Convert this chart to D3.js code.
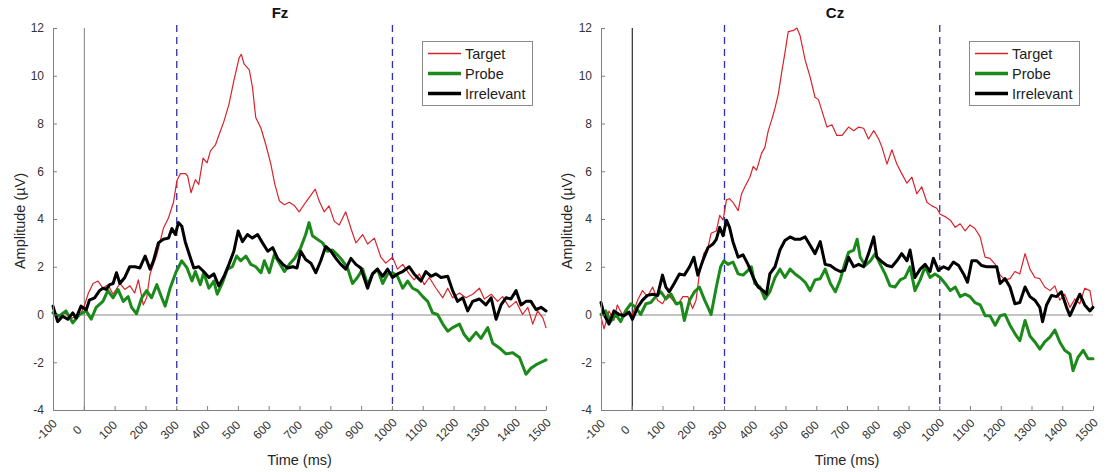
<!DOCTYPE html>
<html>
<head>
<meta charset="utf-8">
<script src="https://cdn.jsdelivr.net/npm/d3@7"></script>
<style>
  body { margin: 0; background: #fff; }
  svg { display: block; font-family: "Liberation Sans", Arial, Helvetica, sans-serif; }
</style>
</head>
<body>
<svg id="chart" width="1106" height="472"></svg>
<script>
// Grand-average ERP waveforms, [time (ms), amplitude (µV)]
const seriesNames = ["Target", "Probe", "Irrelevant"];
const xTicks = d3.range(-100, 1501, 100);
const yTicks = d3.range(-4, 13, 2);
const windowMarks = [300, 1000];

const fzTarget = [[-100,0.1],[-80,-0.05],[-60,0.05],[-40,-0.15],[-25,-0.1],[-10,0.05],[0,0.3],[15,0.9],[30,1.3],[46,1.4],[62,1.1],[78,1.25],[95,0.85],[117,1.3],[133,1.05],[150,1.2],[165,0.9],[177,1.45],[193,0.4],[204,0.7],[215,1.7],[237,2.5],[258,3.6],[275,4.05],[291,4.7],[302,5.6],[313,5.9],[330,5.9],[337,5.8],[348,5.1],[362,5.65],[373,5.45],[387,6.55],[400,6.35],[411,6.85],[427,7.1],[438,7.5],[455,8.1],[471,8.8],[487,9.8],[504,10.75],[511,10.9],[520,10.5],[537,10.25],[547,9.55],[558,8.25],[575,7.8],[591,7.1],[607,6.3],[620,5.45],[635,4.75],[651,4.6],[667,4.7],[684,4.55],[699,4.3],[720,4.7],[737,5.0],[751,5.25],[764,4.75],[780,4.3],[796,4.55],[813,3.9],[829,3.75],[850,4.3],[867,3.6],[883,3.0],[905,3.35],[921,2.95],[943,3.2],[964,2.4],[980,2.15],[1002,2.4],[1018,1.9],[1035,2.1],[1056,1.7],[1072,1.45],[1089,1.7],[1105,1.25],[1121,1.55],[1143,1.1],[1165,0.7],[1181,1.1],[1197,0.7],[1219,0.9],[1240,0.7],[1262,0.85],[1284,1.1],[1300,0.65],[1322,0.85],[1343,0.55],[1359,0.75],[1381,0.3],[1403,0.55],[1424,0],[1441,0.3],[1457,-0.4],[1473,0.15],[1490,-0.15],[1500,-0.55]];

const fzProbe = [[-100,0.07],[-80,-0.07],[-58,0.15],[-36,-0.35],[-14,0],[8,0.15],[24,-0.2],[40,0.3],[62,0.55],[78,1.0],[95,0.7],[111,1.05],[128,0.55],[144,0.75],[155,0.3],[171,0.03],[188,0.7],[204,1.0],[220,0.7],[237,1.25],[253,0.7],[264,0.35],[280,1.1],[300,1.8],[318,2.25],[335,1.95],[351,1.4],[362,1.8],[378,1.25],[389,1.75],[406,1.1],[422,1.4],[433,0.85],[449,1.3],[466,1.9],[482,2.0],[496,2.45],[509,2.25],[526,2.45],[542,2.1],[558,2.0],[575,1.75],[586,2.25],[602,1.75],[618,2.5],[635,2.15],[651,1.8],[667,2.1],[684,2.35],[704,2.8],[720,3.35],[731,3.85],[742,3.3],[758,3.15],[775,3.0],[791,2.65],[807,2.7],[823,2.5],[840,2.25],[856,1.95],[872,1.3],[888,1.55],[905,1.9],[921,1.25],[937,1.7],[953,1.9],[970,1.3],[986,1.7],[1002,1.75],[1018,1.6],[1035,1.1],[1051,1.4],[1067,1.1],[1083,1.0],[1100,0.75],[1116,0.55],[1132,0.07],[1148,0],[1165,-0.4],[1181,-0.7],[1197,-0.55],[1219,-0.4],[1235,-0.85],[1251,-1.1],[1273,-0.75],[1289,-1.0],[1311,-0.55],[1327,-1.2],[1349,-1.4],[1370,-1.65],[1392,-1.6],[1414,-1.8],[1435,-2.5],[1451,-2.25],[1468,-2.1],[1484,-2.0],[1500,-1.9]];

const fzIrrelevant = [[-100,0.35],[-85,-0.3],[-69,-0.07],[-52,-0.2],[-36,0.07],[-25,-0.15],[-9,0.35],[8,0.2],[18,0.6],[35,0.7],[51,1.0],[62,1.1],[73,1.05],[84,1.25],[95,1.3],[106,1.75],[117,1.3],[133,1.55],[149,2.0],[166,2.0],[182,1.95],[199,2.45],[215,1.9],[226,2.25],[242,3.0],[258,3.15],[275,3.2],[286,3.6],[297,3.35],[307,3.85],[318,3.7],[329,3.05],[344,2.45],[357,1.95],[373,2.0],[389,1.8],[406,1.55],[422,1.7],[438,1.2],[455,1.6],[471,2.1],[487,2.65],[501,3.5],[515,3.05],[531,3.35],[547,3.2],[564,3.35],[580,3.0],[597,2.65],[613,2.8],[629,2.35],[646,2.1],[662,1.95],[678,2.0],[692,1.95],[704,2.65],[720,2.3],[737,2.15],[753,1.75],[769,2.25],[785,2.85],[802,2.65],[818,2.35],[834,2.1],[850,1.9],[867,2.35],[883,2.1],[899,1.95],[921,1.1],[937,1.7],[953,1.9],[970,1.6],[986,1.9],[1002,1.55],[1018,1.7],[1035,1.8],[1056,2.0],[1072,1.7],[1094,1.4],[1110,1.8],[1127,1.6],[1143,1.7],[1159,1.55],[1181,1.6],[1197,1.0],[1213,0.55],[1230,0.7],[1246,0.15],[1262,0.55],[1284,0.65],[1305,0.4],[1322,0.7],[1338,-0.2],[1354,0.4],[1370,0.7],[1386,0.65],[1403,1.0],[1419,0.4],[1435,0.55],[1451,0.55],[1468,0.2],[1484,0.3],[1500,0.15]];

const czTarget = [[-100,-0.1],[-90,-0.6],[-74,0.15],[-58,-0.25],[-47,0.4],[-31,0],[-14,0.15],[2,0],[19,0.6],[35,1.0],[51,0.75],[68,1.15],[84,0.6],[100,0.45],[117,0.85],[133,0.6],[149,0.4],[166,0.75],[182,0.75],[198,0.25],[209,0.6],[220,1.7],[234,2.55],[248,2.8],[258,3.4],[275,3.5],[286,4.15],[297,3.95],[308,4.8],[318,4.85],[329,4.7],[346,4.35],[357,5.05],[368,5.35],[384,5.75],[395,6.2],[406,6.05],[422,6.75],[433,7.0],[444,7.7],[455,8.15],[466,8.65],[477,9.25],[487,10.1],[498,10.95],[509,11.85],[526,11.9],[537,12.0],[547,11.7],[564,10.65],[580,9.95],[596,9.1],[607,9.0],[618,8.55],[635,7.85],[651,7.95],[667,7.5],[684,7.5],[705,7.85],[722,7.7],[738,7.85],[754,7.8],[770,7.35],[787,7.7],[803,7.35],[814,7.0],[830,6.3],[846,6.9],[862,6.3],[878,5.9],[895,5.5],[911,5.75],[927,5.05],[943,5.35],[960,4.7],[976,4.55],[992,4.45],[1003,4.2],[1019,4.1],[1036,3.95],[1052,3.65],[1068,3.8],[1084,3.5],[1100,3.75],[1116,3.6],[1133,3.25],[1149,2.4],[1165,2.35],[1182,2.1],[1198,1.65],[1214,1.45],[1230,1.5],[1246,1.8],[1262,1.7],[1279,2.55],[1295,1.9],[1311,1.55],[1327,1.5],[1343,1.15],[1360,1.0],[1376,1.2],[1392,0.6],[1408,0.85],[1425,0.3],[1441,0.65],[1457,0.45],[1473,1.1],[1490,1.0],[1500,0.25]];

const czProbe = [[-100,0],[-85,0.15],[-69,-0.3],[-52,0],[-36,-0.3],[-20,0.15],[-3,0.45],[13,0.3],[29,0],[46,0.45],[62,0.5],[78,0.75],[95,0.95],[111,0.65],[128,0.85],[144,0.45],[160,0.5],[171,-0.25],[188,0.6],[204,0.95],[220,1.15],[237,0.6],[248,0.3],[258,0],[275,1.15],[289,2.0],[300,2.25],[313,2.1],[329,2.2],[346,1.7],[362,1.65],[378,1.85],[389,2.0],[400,1.3],[417,1.15],[433,0.65],[449,0.95],[466,1.55],[482,1.9],[498,1.55],[515,1.9],[531,1.7],[547,1.55],[564,1.35],[580,1.0],[596,1.45],[613,1.5],[629,1.9],[646,1.3],[662,0.95],[678,1.45],[692,2.1],[705,2.6],[722,2.7],[733,3.15],[743,2.4],[759,2.05],[776,2.25],[792,2.55],[808,2.1],[824,1.7],[840,1.2],[856,1.15],[873,1.45],[889,1.55],[905,2.0],[921,1.0],[938,1.45],[954,2.0],[970,1.55],[986,1.7],[1003,1.55],[1019,1.3],[1036,1.0],[1052,1.15],[1068,0.75],[1084,0.85],[1100,0.75],[1116,0.5],[1133,0.4],[1149,-0.05],[1165,-0.05],[1182,-0.45],[1198,-0.05],[1214,0],[1230,-0.45],[1246,-0.8],[1262,-1.1],[1279,-0.25],[1295,-0.9],[1311,-1.15],[1327,-1.45],[1343,-1.15],[1360,-0.95],[1376,-0.65],[1392,-1.15],[1408,-1.5],[1425,-1.65],[1435,-2.35],[1451,-1.8],[1468,-1.5],[1484,-1.85],[1500,-1.85]];

const czIrrelevant = [[-100,0.5],[-90,0],[-74,-0.4],[-58,0.15],[-41,0],[-25,-0.05],[-9,0.1],[2,-0.2],[19,0.3],[35,0.6],[51,0.8],[68,0.85],[84,0.8],[100,1.65],[111,1.15],[122,0.95],[138,1.3],[155,1.7],[171,1.65],[188,2.0],[202,2.4],[215,1.65],[231,2.25],[248,2.8],[264,2.95],[275,3.15],[286,3.65],[297,3.3],[308,3.95],[318,3.65],[329,3.05],[346,2.4],[362,2.5],[378,2.1],[395,1.55],[411,1.15],[427,1.0],[438,0.85],[449,1.7],[466,2.0],[482,2.7],[498,3.1],[515,3.25],[531,3.15],[547,3.15],[564,3.25],[580,2.9],[596,2.55],[613,3.05],[629,2.1],[646,2.05],[662,1.9],[678,1.8],[692,1.85],[705,2.4],[722,2.0],[738,2.1],[754,2.0],[770,2.55],[787,3.25],[797,2.4],[814,2.2],[830,2.05],[846,2.0],[862,2.25],[878,2.55],[895,2.25],[905,2.7],[921,1.55],[938,1.9],[954,2.1],[970,1.8],[981,2.35],[997,1.85],[1014,2.0],[1030,1.9],[1046,2.2],[1063,2.05],[1079,1.7],[1092,1.35],[1106,2.25],[1122,2.25],[1138,2.05],[1154,2.0],[1170,2.0],[1187,2.0],[1198,1.3],[1214,1.5],[1230,1.15],[1246,0.45],[1262,0.5],[1279,1.15],[1295,0.75],[1311,0.6],[1327,0.3],[1336,-0.3],[1349,0.4],[1365,0.8],[1381,0.75],[1397,0.95],[1414,0.3],[1425,-0.05],[1441,0.4],[1457,0.85],[1473,0.4],[1490,0.15],[1500,0.3]];

// Drawing styles
const seriesColors = ["#d8232a", "#1b8a1b", "#000000"];
const seriesWidths = [1.2, 3, 3];

const panels = [
  { title: "Fz", series: [fzTarget, fzProbe, fzIrrelevant], left: 53, right: 546, titleX: 280, yLabelX: 20, onsetColor: "#7f7f7f" },
  { title: "Cz", series: [czTarget, czProbe, czIrrelevant], left: 601, right: 1093, titleX: 835, yLabelX: 567, onsetColor: "#000000" }
];

const plotTop = 28, plotBottom = 410;
const svg = d3.select("#chart");
const plainNumber = d => String(d);

panels.forEach(p => {
  const x = d3.scaleLinear().domain([-100, 1500]).range([p.left, p.right]);
  const y = d3.scaleLinear().domain([-4, 12]).range([plotBottom, plotTop]);
  const g = svg.append("g");

  // zero baseline
  g.append("line")
    .attr("x1", x(-100)).attr("x2", x(1500))
    .attr("y1", y(0) + 0.5).attr("y2", y(0) + 0.5)
    .attr("stroke", "#8a8a8a").attr("stroke-width", 1);

  // stimulus onset
  g.append("line")
    .attr("x1", x(0) + 0.5).attr("x2", x(0) + 0.5)
    .attr("y1", y(12)).attr("y2", y(-4))
    .attr("stroke", p.onsetColor).attr("stroke-width", 1);

  // analysis window
  g.selectAll(".win").data(windowMarks).join("line")
    .attr("class", "win")
    .attr("x1", d => x(d) + 0.5).attr("x2", d => x(d) + 0.5)
    .attr("y1", y(12) - 3).attr("y2", y(-4))
    .attr("stroke", "#2f2fa8").attr("stroke-width", 1.3)
    .attr("stroke-dasharray", "7,5");

  // waveforms
  const line = d3.line().x(d => x(d[0])).y(d => y(d[1]));
  p.series.forEach((s, i) => {
    g.append("path")
      .datum(s)
      .attr("d", line)
      .attr("fill", "none")
      .attr("stroke", seriesColors[i])
      .attr("stroke-width", seriesWidths[i])
      .attr("stroke-linejoin", "round")
      .attr("stroke-linecap", "round");
  });

  // y axis
  const ya = g.append("g")
    .attr("transform", `translate(${p.left},0)`)
    .call(d3.axisLeft(y).tickValues(yTicks).tickFormat(plainNumber)
      .tickSizeInner(-4).tickSizeOuter(0).tickPadding(9));
  // x axis
  const xa = g.append("g")
    .attr("transform", `translate(0,${plotBottom})`)
    .call(d3.axisBottom(x).tickValues(xTicks).tickFormat(plainNumber)
      .tickSizeInner(-4).tickSizeOuter(0).tickPadding(0));
  xa.selectAll(".tick text")
    .attr("y", 0).attr("dy", null)
    .attr("text-anchor", "middle")
    .attr("dominant-baseline", "central")
    .attr("transform", "translate(-7,20) rotate(-45)");

  [ya, xa].forEach(a => {
    a.select(".domain").attr("stroke", "#808080");
    a.selectAll(".tick line").attr("stroke", "#808080");
    a.selectAll(".tick text").attr("fill", "#333").style("font-size", "12px")
      .style("font-family", "'Liberation Sans', Arial, sans-serif");
  });

  // titles and axis labels
  g.append("text")
    .attr("x", p.titleX).attr("y", 18)
    .attr("text-anchor", "middle")
    .style("font-weight", "bold").style("font-size", "15px")
    .attr("fill", "#111")
    .text(p.title);

  g.append("text")
    .attr("x", (p.left + p.right) / 2).attr("y", 465)
    .attr("text-anchor", "middle")
    .style("font-size", "14.5px").attr("fill", "#262626")
    .text("Time (ms)");

  g.append("text")
    .attr("transform", `translate(${p.yLabelX},${(plotTop + plotBottom) / 2 + 2}) rotate(-90)`)
    .attr("text-anchor", "middle")
    .attr("dominant-baseline", "central")
    .style("font-size", "14.5px").attr("fill", "#262626")
    .text("Amplitude (µV)");

  // legend
  const lx = p.right - 124, ly = 41;
  const lg = g.append("g").attr("transform", `translate(${lx},${ly})`);
  lg.append("rect")
    .attr("x", 0.5).attr("y", 0.5).attr("width", 110).attr("height", 64)
    .attr("fill", "#fff").attr("stroke", "#8a8a8a").attr("stroke-width", 1);
  seriesNames.forEach((name, i) => {
    const cy = 12.5 + i * 20;
    lg.append("line")
      .attr("x1", 6).attr("x2", 39).attr("y1", cy).attr("y2", cy)
      .attr("stroke", seriesColors[i]).attr("stroke-width", seriesWidths[i] === 3 ? 3.5 : 1.3);
    lg.append("text")
      .attr("x", 43).attr("y", cy).attr("dominant-baseline", "central")
      .style("font-size", "14.5px").attr("fill", "#222")
      .text(name);
  });
});
</script>
</body>
</html>
